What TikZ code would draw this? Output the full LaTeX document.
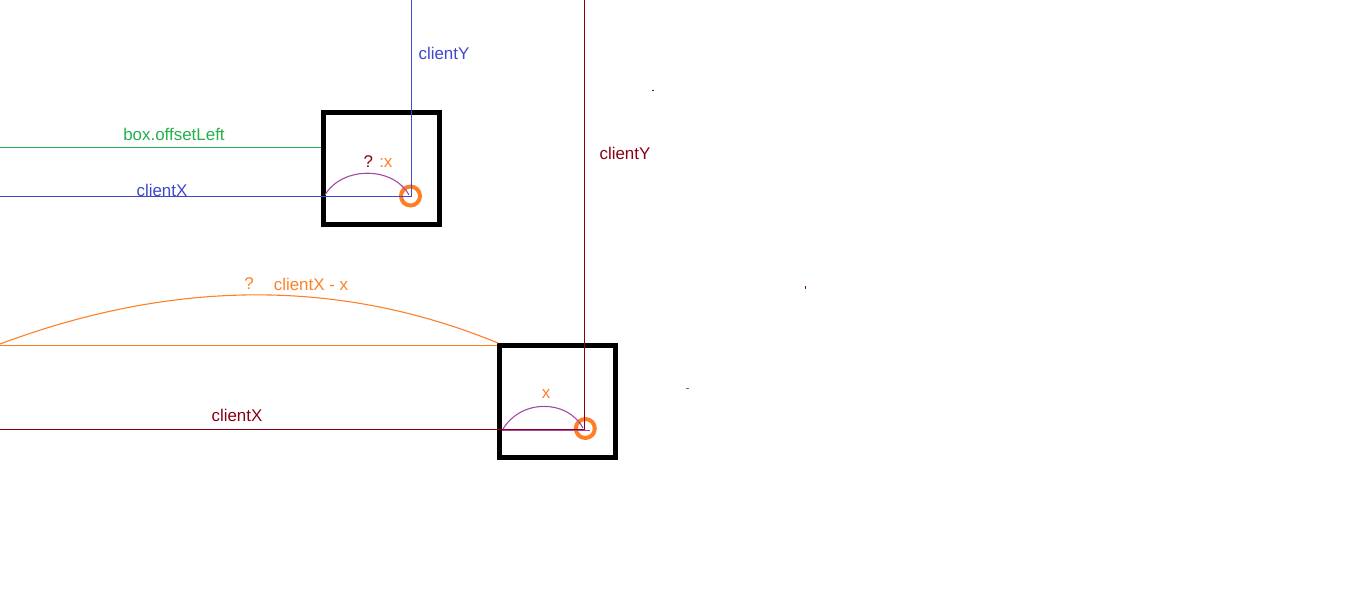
\documentclass[tikz,border=0pt]{standalone}
\usepackage{fontspec}
\setmainfont{Liberation Sans}
\usepackage{tikz}
\usetikzlibrary{positioning,calc}
\usepackage{xcolor}
\definecolor{pdblue}{RGB}{63,72,204}
\definecolor{pdgreen}{RGB}{34,177,76}
\definecolor{pdorange}{RGB}{255,127,39}
\definecolor{pdred}{RGB}{136,0,21}
\definecolor{pdpurple}{RGB}{163,73,164}
\tikzset{
  thin1/.style={line width=1.1bp},
  box/.style={draw=black,line width=5bp,minimum width=116bp,minimum height=112bp,inner sep=0pt},
  dot/.style={draw=pdorange,circle,line width=4bp,minimum size=19bp,inner sep=0pt},
  lbl/.style={font=\fontsize{17}{20}\selectfont,inner sep=0pt}
}
\begin{document}
\begin{tikzpicture}[x=1bp,y=-1bp]
            \useasboundingbox (0,0) rectangle (1360,591);
            % first box: mouse down
            \node[box] (boxA) at (381.75,168.25) {};
            \node[dot] (ptA) at (410.5,196) {};
            \coordinate (topA) at (411.5,0);
            \coordinate (leftA) at (0,196.5);
            \coordinate (leftG) at (0,147.5);
            \draw[pdblue,thin1] (topA) -- (topA |- ptA.center);
            \draw[pdblue,thin1] (leftA) -- (leftA -| topA);
            \draw[pdgreen,thin1] (leftG) -- (leftG -| boxA.west);
            \draw[pdpurple,thin1] (325,195) .. controls (342,166) and (393,166) .. (409,195);
            \node[lbl,pdblue] (cyA) at (444,53) {clientY};
            \node[lbl,pdgreen] (offL) at (174,134) {box.offsetLeft};
            \node[lbl,pdblue] (cxA) at (162,190) {clientX};
            \node[lbl,pdorange] (qA) at (378,162) {\textcolor{pdred}{?} :x};

            % second box: after move
            \node[box] (boxB) at (557,401.75) {};
            \node[dot] (ptB) at (585.3,428.5) {};
            \coordinate (topB) at (584.5,0);
            \coordinate (leftB) at (0,429.5);
            \coordinate (leftO) at (0,345.5);
            \draw[pdred,thin1] (topB) -- (topB |- ptB.center);
            \draw[pdred,thin1] (leftB) -- (leftB -| topB);
            \draw[pdpurple,thin1] (501.5,430.5) -- (590,430.5);
            \draw[pdorange,thin1] (leftO) -- (leftO -| boxB.west);
            \draw[pdorange,thin1] (0,344) .. controls (150,288) and (320,270) .. (498,343);
            \draw[pdpurple,thin1] (503,429) .. controls (521,399) and (567,399) .. (583,428);
            \node[lbl,pdred] (cyB) at (625,153) {clientY};
            \node[lbl,pdred] (cxB) at (237,415) {clientX};
            \node[lbl,pdorange] (xB) at (546,394) {x};
            \node[lbl,pdorange] (qB) at (249,284) {?};
            \node[lbl,pdorange] (dB) at (311,284) {clientX - x};

            % stray specks
            \fill[pdred] (652,90.5) rectangle (654,91.5);
            \fill[pdred] (805,285.5) rectangle (806,288.5);
            \fill[pdpurple] (685.5,388) rectangle (688.5,389);
        \end{tikzpicture}
\end{document}
